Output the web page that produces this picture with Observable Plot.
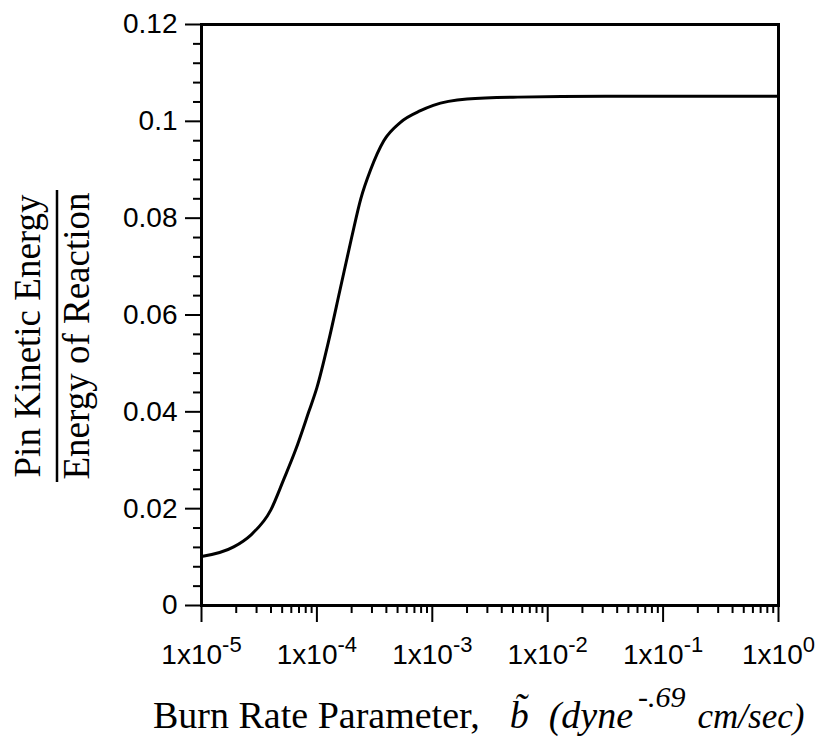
<!DOCTYPE html>
<html>
<head>
<meta charset="utf-8">
<script src="https://cdn.jsdelivr.net/npm/d3@7"></script>
<script src="https://cdn.jsdelivr.net/npm/@observablehq/plot@0.6"></script>
<style>
  html, body { margin: 0; padding: 0; background: #fff; }
  #chart svg { display: block; }
</style>
</head>
<body>
<div id="chart"></div>
<script>
// Burn rate parameter b (dyne^-.69 cm/sec)
const burnRate = [1e-5, 1.9e-5, 2.66e-5, 3.98e-5, 5.13e-5, 6.53e-5, 8.5e-5, 1.0e-4, 1.26e-4, 1.58e-4, 2.0e-4, 2.4e-4, 2.92e-4, 3.8e-4, 5.3e-4, 7.9e-4, 1.02e-3, 2.0e-3, 5.5e-3, 0.0316, 0.316, 1];
// Pin kinetic energy / energy of reaction
const energyRatio = [0.0101, 0.0121, 0.0145, 0.0197, 0.0259, 0.0321, 0.0400, 0.0450, 0.0545, 0.0650, 0.0760, 0.0840, 0.0900, 0.0960, 0.0998, 0.1022, 0.1033, 0.1046, 0.1050, 0.1052, 0.1052, 0.1052];

const yMajorTicks = [0, 0.02, 0.04, 0.06, 0.08, 0.1, 0.12];
const yTickLabels = ["0", "0.02", "0.04", "0.06", "0.08", "0.1", "0.12"];
const xMajorTicks = [1e-5, 1e-4, 1e-3, 1e-2, 1e-1, 1];
const xTickExponents = ["-5", "-4", "-3", "-2", "-1", "0"];

const yMinorTicks = d3.range(0, 0.1201, 0.004).filter(v => !yMajorTicks.some(t => Math.abs(t - v) < 1e-9));
const xMinorTicks = xMajorTicks.slice(0, -1).flatMap(d => d3.range(2, 10).map(k => k * d));

const data = burnRate.map((b, i) => ({b, r: energyRatio[i]}));

const chart = Plot.plot({
  width: 822,
  height: 738,
  marginLeft: 201,
  marginRight: 44,
  marginTop: 24,
  marginBottom: 133,
  x: {type: "log", domain: [1e-5, 1]},
  y: {domain: [0, 0.12]},
  style: {fontFamily: "Liberation Sans, Arial, sans-serif", fontSize: "28px", color: "black", background: "white"},
  marks: [
    Plot.axisY({ticks: yMinorTicks, tickSize: 8, tickFormat: () => "", label: null, strokeWidth: 2}),
    Plot.axisY({ticks: yMajorTicks, tickSize: 16, tickPadding: 8, label: null, strokeWidth: 2,
      tickFormat: d => yTickLabels[yMajorTicks.findIndex(t => Math.abs(t - d) < 1e-9)]}),
    Plot.axisX({ticks: xMinorTicks, tickSize: 8, tickFormat: () => "", label: null, strokeWidth: 2}),
    Plot.axisX({ticks: xMajorTicks, tickSize: 17, tickPadding: 22, label: null, strokeWidth: 2,
      tickFormat: d => xTickExponents[xMajorTicks.findIndex(t => Math.abs(Math.log10(t) - Math.log10(d)) < 1e-6)]}),
    Plot.frame({strokeWidth: 3}),
    Plot.line(data, {x: "b", y: "r", stroke: "black", strokeWidth: 3, curve: "monotone-x"})
  ]
});

document.getElementById("chart").appendChild(chart);

const svg = d3.select(chart);

// remove blank minor labels, superscript exponents on major x tick labels
svg.selectAll('g[aria-label="y-axis tick label"] text, g[aria-label="x-axis tick label"] text').each(function() {
  if (!this.textContent) this.remove();
});
svg.selectAll('g[aria-label="x-axis tick label"] text').each(function() {
  const exp = this.textContent;
  if (!xTickExponents.includes(exp)) return;
  const t = d3.select(this);
  t.text(null);
  t.append("tspan").text("1x10");
  t.append("tspan").attr("dy", "-0.55em").attr("font-size", "22px").text(exp);
});

// y-axis title as a fraction
const serif = "Liberation Serif, Times New Roman, serif";
const yt = svg.append("g").attr("font-family", serif).attr("font-size", 37).attr("fill", "black");
yt.append("text").attr("text-anchor", "middle").attr("transform", "translate(40,336) rotate(-90)").text("Pin Kinetic Energy");
yt.append("line").attr("x1", 57).attr("x2", 57).attr("y1", 190).attr("y2", 482).attr("stroke", "black").attr("stroke-width", 2.5);
yt.append("text").attr("text-anchor", "middle").attr("transform", "translate(89,336) rotate(-90)").text("Energy of Reaction");

// x-axis title
const xt = svg.append("text").attr("font-family", serif).attr("font-size", 38).attr("fill", "black")
  .attr("text-anchor", "start").attr("x", 153).attr("y", 728);
xt.append("tspan").text("Burn Rate Parameter,");
xt.append("tspan").attr("dx", 30).attr("font-style", "italic").text("b\u0303");
xt.append("tspan").attr("dx", 20).attr("font-style", "italic").text("(dyne");
xt.append("tspan").attr("dy", -21).attr("dx", 5).attr("font-size", 30).attr("font-style", "italic").text("-.69");
xt.append("tspan").attr("dy", 21).attr("dx", 12).attr("font-size", 35).attr("font-style", "italic").text("cm/sec)");
</script>
</body>
</html>
